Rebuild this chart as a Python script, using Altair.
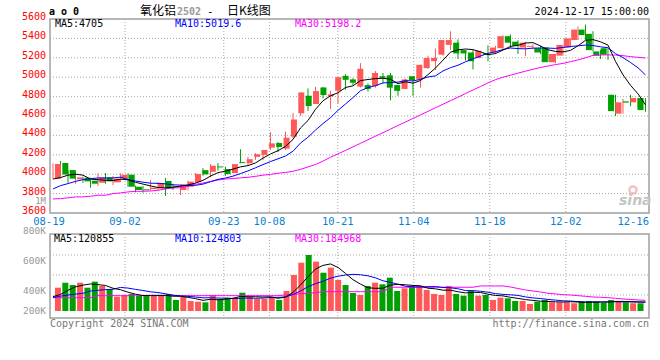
import altair as alt
import pandas as pd

# ---------------- data ----------------
dates = [
    "08-19", "08-20", "08-21", "08-22", "08-23", "08-26", "08-27", "08-28", "08-29", "08-30",
    "09-02", "09-03", "09-04", "09-05", "09-06", "09-09", "09-10", "09-11", "09-12", "09-13",
    "09-18", "09-19", "09-20", "09-23", "09-24", "09-25", "09-26", "09-27", "09-30",
    "10-08", "10-09", "10-10", "10-11", "10-14", "10-15", "10-16", "10-17", "10-18",
    "10-21", "10-22", "10-23", "10-24", "10-25", "10-28", "10-29", "10-30", "10-31",
    "11-01", "11-04", "11-05", "11-06", "11-07", "11-08", "11-11", "11-12", "11-13", "11-14", "11-15",
    "11-18", "11-19", "11-20", "11-21", "11-22", "11-25", "11-26", "11-27", "11-28", "11-29",
    "12-02", "12-03", "12-04", "12-05", "12-06", "12-09", "12-10", "12-11", "12-12", "12-13",
    "12-16", "12-17",
]
opens = [3954, 4115, 4043, 3947, 3964, 3933, 3912, 3967, 3916, 3954,
         3995, 3871, 3844, 3847, 3854, 3930, 3878, 3837, 3871, 3919,
         4042, 4025, 4080, 4053, 4012, 4124, 4114, 4179, 4199, 4274,
         4322, 4264, 4387, 4628, 4809, 4724, 4894, 4802, 4860, 5014,
         4977, 4903, 4919, 4909, 5010, 5020, 4919, 4879, 5010, 4977,
         5094, 5165, 5232, 5333, 5356, 5279, 5255, 5198, 5245, 5255,
         5299, 5423, 5366, 5306, 5313, 5299, 5306, 5155, 5222, 5306,
         5383, 5491, 5447, 5266, 5299, 4819, 4624, 4751, 4741, 4785]
highs = [4112, 4136, 4043, 4036, 3974, 3947, 4009, 4012, 3981, 4009,
         4009, 3882, 3878, 3940, 3916, 3961, 3902, 3892, 3933, 4012,
         4062, 4104, 4114, 4077, 4104, 4257, 4179, 4216, 4250, 4434,
         4332, 4438, 4632, 4843, 4884, 4901, 4901, 4860, 5000, 5031,
         4990, 5145, 4936, 5064, 5044, 5044, 4919, 4987, 5010, 5128,
         5222, 5296, 5383, 5474, 5390, 5279, 5279, 5272, 5329, 5323,
         5433, 5440, 5380, 5366, 5340, 5323, 5306, 5239, 5333, 5400,
         5524, 5541, 5474, 5279, 5299, 4819, 4775, 4819, 4785, 4785]
lows = [3950, 3974, 3912, 3902, 3912, 3861, 3878, 3902, 3888, 3919,
        3871, 3813, 3809, 3830, 3837, 3775, 3837, 3785, 3833, 3912,
        3984, 3967, 4036, 3984, 4012, 4114, 4094, 4148, 4145, 4250,
        4230, 4250, 4370, 4601, 4652, 4724, 4782, 4673, 4727, 4870,
        4920, 4895, 4852, 4892, 4936, 4761, 4808, 4876, 4808, 4892,
        5087, 5074, 5222, 5282, 5188, 5171, 5081, 5198, 5165, 5238,
        5289, 5299, 5239, 5215, 5289, 5239, 5155, 5145, 5222, 5306,
        5383, 5383, 5266, 5188, 5178, 4600, 4624, 4701, 4691, 4644]
closes = [4105, 3998, 3954, 3967, 3926, 3902, 3967, 3926, 3954, 3995,
          3871, 3837, 3834, 3861, 3909, 3854, 3868, 3892, 3923, 4002,
          3998, 4087, 4070, 4001, 4104, 4114, 4155, 4206, 4250, 4318,
          4281, 4376, 4564, 4843, 4703, 4857, 4816, 4823, 5000, 4973,
          4943, 5087, 4879, 5044, 4993, 4892, 4859, 4977, 4970, 5128,
          5198, 5198, 5383, 5383, 5245, 5245, 5165, 5272, 5232, 5306,
          5423, 5356, 5323, 5356, 5323, 5255, 5155, 5239, 5333, 5400,
          5491, 5434, 5279, 5222, 5232, 4650, 4741, 4738, 4785, 4661]
volumes = [338000, 410000, 377000, 410000, 338000, 425000, 363000, 315000, 207000, 232000,
           247000, 218000, 218000, 218000, 232000, 247000, 160000, 207000, 145000, 135000,
           126000, 232000, 174000, 193000, 193000, 265000, 207000, 174000, 174000, 207000,
           160000, 290000, 522000, 700000, 812000, 715000, 555000, 628000, 450000, 377000,
           261000, 232000, 363000, 410000, 387000, 483000, 290000, 329000, 363000, 363000,
           305000, 247000, 232000, 363000, 247000, 222000, 290000, 222000, 232000, 160000,
           193000, 184000, 145000, 145000, 102000, 135000, 160000, 126000, 126000, 126000,
           112000, 135000, 145000, 135000, 120000, 160000, 135000, 126000, 112000, 112000]

# moving averages: first values (window not yet full)
ma5_head = [3950, 3965, 3990, 4000]
ma10_head = [3848, 3882, 3903, 3926, 3944, 3954, 3961, 3961, 3961]
ma30 = [3745, 3748, 3756, 3766, 3766, 3773, 3783, 3783, 3800, 3807,
        3817, 3824, 3824, 3827, 3834, 3848, 3858, 3861, 3875, 3895,
        3909, 3925, 3940, 3950, 3956, 3962, 3968, 3978, 3990, 3998,
        4010, 4018, 4030, 4050, 4075, 4100, 4135, 4175, 4210, 4245,
        4282, 4318, 4355, 4392, 4428, 4465, 4502, 4538, 4575, 4611,
        4648, 4685, 4721, 4758, 4794, 4831, 4868, 4904, 4941, 4975,
        5000, 5020, 5042, 5062, 5082, 5100, 5115, 5130, 5142, 5160,
        5178, 5200, 5225, 5229, 5230, 5228, 5222, 5212, 5205, 5198]
vma5_head = [207000, 240000, 300000, 350000]
vma10_head = [195000, 215000, 232000, 245000, 257000, 290000, 300000, 310000, 315000]
vma30 = ([193000] * 6 + [222000] * 25 + [232000, 240000, 250000, 257000, 265000]
         + [280000] * 9 + [344000] * 12 + [363000] * 4
         + [348000, 326000, 305000, 290000, 276000, 257000, 247000, 236000, 232000, 222000,
            213000, 203000, 199000, 193000, 184000, 174000, 167000, 160000, 155000])

tick_days = [0, 10, 23, 29, 38, 48, 58, 68, 78]
price_ticks = [3600, 3800, 4000, 4200, 4400, 4600, 4800, 5000, 5200, 5400, 5600]
vol_tick_text = ["800K", "600K", "400K", "200K"]


def moving(vals, n, head):
    out = list(head)
    for i in range(len(head), len(vals)):
        out.append(sum(vals[i - n + 1:i + 1]) / n)
    return out


n = len(closes)
df = pd.DataFrame({
    "idx": list(range(n)), "date": dates, "open": opens, "high": highs, "low": lows,
    "close": closes, "vol": volumes,
    "ma5": moving(closes, 5, ma5_head), "ma10": moving(closes, 10, ma10_head), "ma30": ma30,
    "vma5": moving(volumes, 5, vma5_head), "vma10": moving(volumes, 10, vma10_head), "vma30": vma30,
})

# ---------------- styling ----------------
MONO = "DejaVu Sans Mono"
CJK = "Noto Sans CJK SC"
RED = "#ff5858"
GREEN = "#00a000"
GRID = "#a8a8a8"
FRAME = "#a0a0a0"

X_SCALE = alt.Scale(domain=[-0.4, 79.47], range=[50, 649], nice=False, zero=False)
GRID_SCALE = alt.Scale(domain=[0, 78], range=[49, 641.8], nice=False, zero=False)
P_SCALE = alt.Scale(domain=[3600, 5600], range=[213, 19], nice=False, zero=False)
V_SCALE = alt.Scale(domain=[0, 1000000], range=[311, 242], nice=False)

one = pd.DataFrame({"k": [0]})
up = alt.condition("datum.close >= datum.open", alt.value(RED), alt.value(GREEN))
xq = alt.X("idx:Q", scale=X_SCALE, axis=None)


def txt(s, x, y, color="black", size=10, align="left", font=MONO, weight="normal", style="normal"):
    return alt.Chart(one).mark_text(
        align=align, baseline="alphabetic", font=font, fontSize=size,
        fontWeight=weight, fontStyle=style, color=color
    ).encode(x=alt.value(x), y=alt.value(y), text=alt.value(s))


def hrule(y, x1, x2, color=GRID, dash=(1, 2), width=1):
    return alt.Chart(one).mark_rule(color=color, strokeDash=list(dash), strokeWidth=width).encode(
        x=alt.value(x1), x2=alt.value(x2), y=alt.value(y))


layers = []

# frames
for (y1, y2) in [(19, 213), (234, 318)]:
    layers.append(alt.Chart(one).mark_rect(fillOpacity=0, stroke=FRAME, strokeWidth=1.5).encode(
        x=alt.value(50), x2=alt.value(649), y=alt.value(y1), y2=alt.value(y2)))

# price grid (horizontal)
pt = pd.DataFrame({"p": price_ticks})
layers.append(alt.Chart(pt[(pt.p > 3600) & (pt.p < 5600)]).mark_rule(
    color=GRID, strokeDash=[1, 2]).encode(
    y=alt.Y("p:Q", scale=P_SCALE, axis=None), x=alt.value(50), x2=alt.value(649)))
# volume grid (horizontal)
for yy in [255, 275, 295]:
    layers.append(hrule(yy, 50, 649))

# vertical grid
gd = pd.DataFrame({"d": tick_days[1:-1]})
for (y1, y2) in [(19, 213), (234, 321)]:
    layers.append(alt.Chart(gd).mark_rule(color=GRID, strokeDash=[1, 2]).encode(
        x=alt.X("d:Q", scale=GRID_SCALE, axis=None), y=alt.value(y1), y2=alt.value(y2)))

# price axis labels
layers.append(alt.Chart(pt).mark_text(align="right", baseline="middle", font=MONO, fontSize=10,
                                      color="#ff0000", dy=-2).encode(
    y=alt.Y("p:Q", scale=P_SCALE, axis=None), x=alt.value(46), text=alt.Text("p:Q", format="d")))
layers.append(txt("1M", 46, 203.5, color="#999999", size=9, align="right"))

# x labels
xl = pd.DataFrame({"d": tick_days[:-1], "lab": [dates[i] for i in tick_days[:-1]]})
layers.append(alt.Chart(xl).mark_text(align="center", baseline="alphabetic", font=MONO, fontSize=10.5,
                                      color="#0a7fd0").encode(
    x=alt.X("d:Q", scale=GRID_SCALE, axis=None), y=alt.value(224.5), text="lab:N"))
layers.append(txt(dates[tick_days[-1]], 649, 224.5, color="#0a7fd0", size=10.5, align="right"))

# candles
base = alt.Chart(df)
layers.append(base.mark_rule(strokeWidth=1).encode(
    x=xq, y=alt.Y("low:Q", scale=P_SCALE, axis=None), y2="high:Q", color=up))
layers.append(base.mark_bar(size=6).encode(
    x=xq, y=alt.Y("open:Q", scale=P_SCALE, axis=None), y2="close:Q", color=up))

# price MAs
for col, c in [("ma30", "#ff00ff"), ("ma10", "#0000ff"), ("ma5", "#000000")]:
    layers.append(base.mark_line(color=c, strokeWidth=1).encode(
        x=xq, y=alt.Y(f"{col}:Q", scale=P_SCALE, axis=None)))

# volume
layers.append(base.mark_bar(size=6).encode(
    x=xq, y=alt.Y("vol:Q", scale=V_SCALE, axis=None), color=up))
for col, c in [("vma30", "#ff00ff"), ("vma10", "#0000ff"), ("vma5", "#000000")]:
    layers.append(base.mark_line(color=c, strokeWidth=1).encode(
        x=xq, y=alt.Y(f"{col}:Q", scale=V_SCALE, axis=None)))

# volume axis labels
for s, yy in zip(vol_tick_text, [234, 263.5, 294, 314]):
    layers.append(txt(s, 46, yy, color="#999999", size=9.5, align="right"))

# header texts
layers.append(txt("a o 0", 49, 15, weight="bold"))
layers.append(txt("氧化铝", 140, 15, size=12, font=CJK))
layers.append(txt("2502", 177, 15, color="#999999", size=10, weight="bold"))
layers.append(txt("-", 207, 15, size=11))
layers.append(txt("日K线图", 227, 15, size=12, font=CJK))
layers.append(txt("2024-12-17 15:00:00", 649, 15, align="right"))

# MA legends
layers.append(txt("MA5:4705", 55, 27))
layers.append(txt("MA10:5019.6", 175, 27, color="#0000ff"))
layers.append(txt("MA30:5198.2", 295, 27, color="#ff00ff"))
layers.append(txt("MA5:120855", 54, 242))
layers.append(txt("MA10:124803", 175, 242, color="#0000ff"))
layers.append(txt("MA30:184968", 295, 242, color="#ff00ff"))

# footer
layers.append(txt("Copyright 2024 SINA.COM", 50, 327, color="#777777"))
layers.append(txt("http://finance.sina.com.cn", 649, 327, color="#777777", align="right"))

# sina watermark
layers.append(alt.Chart(one).mark_point(shape="circle", size=50, strokeWidth=2.5, color="#f2a8a8",
                                        filled=False).encode(x=alt.value(633), y=alt.value(190)))
layers.append(txt("sina", 619, 205, color="#c4c4c4", size=14, font="DejaVu Sans",
                  weight="bold", style="italic"))

chart = alt.layer(*layers).resolve_scale(x="independent", y="independent").properties(
    width=660, height=360, padding=0, background="white",
    autosize=alt.AutoSizeParams(type="none"),
).configure_view(strokeWidth=0)

chart.save("out.html", embed_options={"renderer": "svg", "actions": False})
